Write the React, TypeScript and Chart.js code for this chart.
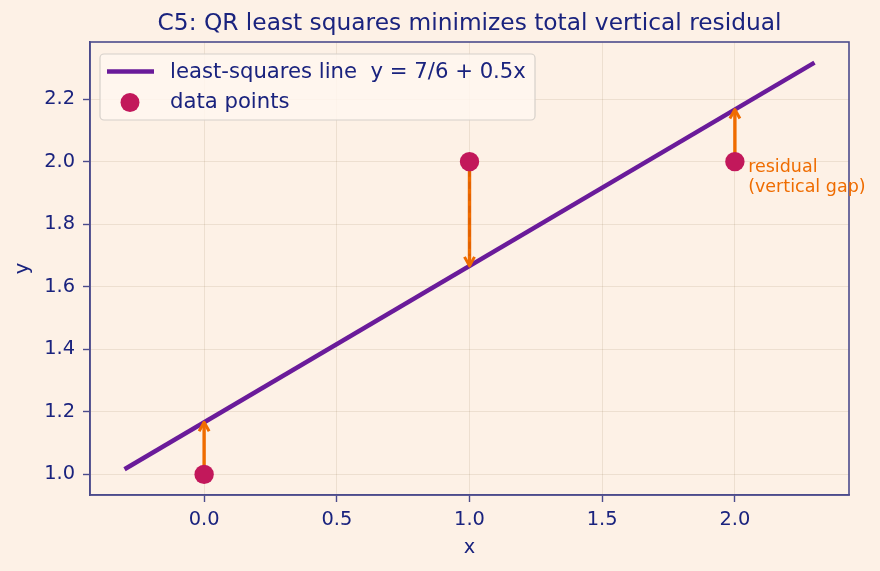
import React, { useEffect, useRef } from "react";
import { Chart, registerables } from "chart.js";

Chart.register(...registerables);

// ---- data ----
const pointX = [0, 1, 2];
const pointY = [1, 2, 2];
const lineX = [-0.3, 2.3];
const lineY = [1.0167, 2.3167];
const fittedY = [1.1667, 1.6667, 2.1667];
const xRange = [-0.43, 2.43];
const yRange = [0.9342, 2.3825];
const xStep = 0.5;
const yStep = 0.2;
const titleText = "C5: QR least squares minimizes total vertical residual";
const xLabel = "x";
const yLabel = "y";
const lineLabel = "least-squares line  y = 7/6 + 0.5x";
const pointLabel = "data points";
const noteLines = ["residual", "(vertical gap)"];
const notePos = [2.05, 1.95];

// ---- styles ----
const FONT = "'DejaVu Sans', 'Liberation Sans', sans-serif";
const BG = "#fdf1e6";
const NAVY = "#1a237e";
const SPINE = "#4b4b8c";
const PURPLE = "#6a1b9a";
const PINK = "#c2185b";
const ORANGE = "#ef6c00";
const GRID = "rgba(140,110,80,0.14)";
const TICK_SIZE = 19.4;
const LEGEND_SIZE = 21.2;
const TITLE_SIZE = 23.3;

function drawArrow(ctx: CanvasRenderingContext2D, x: number, yStart: number, yTip: number, dashed: boolean) {
  const dir = Math.sign(yTip - yStart);
  const headLen = 9;
  const headHalf = 5;
  ctx.save();
  ctx.strokeStyle = ORANGE;
  ctx.lineWidth = 3.4;
  ctx.lineCap = "butt";
  ctx.lineJoin = "round";
  ctx.beginPath();
  ctx.moveTo(x, yStart);
  ctx.lineTo(x, yTip);
  ctx.stroke();
  if (dashed) {
    ctx.strokeStyle = "#e06000";
    ctx.lineWidth = 2.2;
    ctx.setLineDash([7, 5]);
    ctx.beginPath();
    ctx.moveTo(x, yStart + dir * 8);
    ctx.lineTo(x, yTip - dir * 10);
    ctx.stroke();
    ctx.setLineDash([]);
  }
  ctx.strokeStyle = ORANGE;
  ctx.lineWidth = 3.0;
  ctx.beginPath();
  ctx.moveTo(x - headHalf, yTip - dir * headLen);
  ctx.lineTo(x, yTip);
  ctx.lineTo(x + headHalf, yTip - dir * headLen);
  ctx.stroke();
  ctx.restore();
}

const decorPlugin = {
  id: "decor",
  beforeDraw(chart: any) {
    const ctx = chart.ctx;
    ctx.save();
    ctx.fillStyle = BG;
    ctx.fillRect(0, 0, chart.width, chart.height);
    ctx.restore();
  },
  afterDatasetDraw(chart: any, args: any) {
    if (args.index !== 1) return;
    const ctx = chart.ctx;
    const xs = chart.scales.x;
    const ys = chart.scales.y;
    for (let i = 0; i < pointX.length; i++) {
      const px = xs.getPixelForValue(pointX[i]);
      const py = ys.getPixelForValue(pointY[i]);
      const fy = ys.getPixelForValue(fittedY[i]);
      drawArrow(ctx, px, py, fy, i === 1);
    }
  },
  afterDraw(chart: any) {
    const ctx = chart.ctx;
    const a = chart.chartArea;
    const xs = chart.scales.x;
    const ys = chart.scales.y;
    // full frame (spines)
    ctx.save();
    ctx.strokeStyle = SPINE;
    ctx.lineWidth = 1.6;
    ctx.strokeRect(a.left, a.top, a.right - a.left, a.bottom - a.top);
    ctx.restore();

    // title, centred over the plot area
    ctx.save();
    ctx.fillStyle = NAVY;
    ctx.font = `${TITLE_SIZE}px ${FONT}`;
    ctx.textAlign = "center";
    ctx.textBaseline = "middle";
    ctx.fillText(titleText, (a.left + a.right) / 2, 24);
    ctx.restore();

    // annotation text
    ctx.save();
    ctx.fillStyle = ORANGE;
    ctx.font = `17.5px ${FONT}`;
    ctx.textAlign = "left";
    ctx.textBaseline = "middle";
    const nx = xs.getPixelForValue(notePos[0]);
    const ny = ys.getPixelForValue(notePos[1]);
    const lh = 20.5;
    noteLines.forEach((t, i) => {
      ctx.fillText(t, nx, ny + (i - (noteLines.length - 1) / 2) * lh);
    });
    ctx.restore();

    // legend
    const lx = a.left + 10;
    const ly = a.top + 12;
    const lw = 435;
    const lhgt = 66;
    ctx.save();
    ctx.beginPath();
    const r = 4;
    ctx.moveTo(lx + r, ly);
    ctx.lineTo(lx + lw - r, ly);
    ctx.arcTo(lx + lw, ly, lx + lw, ly + r, r);
    ctx.lineTo(lx + lw, ly + lhgt - r);
    ctx.arcTo(lx + lw, ly + lhgt, lx + lw - r, ly + lhgt, r);
    ctx.lineTo(lx + r, ly + lhgt);
    ctx.arcTo(lx, ly + lhgt, lx, ly + lhgt - r, r);
    ctx.lineTo(lx, ly + r);
    ctx.arcTo(lx, ly, lx + r, ly, r);
    ctx.closePath();
    ctx.fillStyle = "rgba(255,247,239,0.85)";
    ctx.fill();
    ctx.strokeStyle = "#d6d0ca";
    ctx.lineWidth = 1.2;
    ctx.stroke();

    const ds = chart.data.datasets;
    // row 1: line
    const row1 = ly + 17.5;
    ctx.strokeStyle = ds[1].borderColor;
    ctx.lineWidth = 4.5;
    ctx.beginPath();
    ctx.moveTo(lx + 7, row1);
    ctx.lineTo(lx + 54, row1);
    ctx.stroke();
    // row 2: marker
    const row2 = ly + 48.5;
    ctx.fillStyle = ds[0].backgroundColor;
    ctx.beginPath();
    ctx.arc(lx + 30, row2, 9.5, 0, Math.PI * 2);
    ctx.fill();

    ctx.fillStyle = NAVY;
    ctx.font = `${LEGEND_SIZE}px ${FONT}`;
    ctx.textAlign = "left";
    ctx.textBaseline = "middle";
    ctx.fillText(ds[1].label, lx + 70, row1 + 0.5);
    ctx.fillText(ds[0].label, lx + 70, row2);
    ctx.restore();
  },
};

export default function App() {
  const ref = useRef<HTMLCanvasElement | null>(null);
  useEffect(() => {
    document.body.style.background = BG;
    const canvas = ref.current;
    if (!canvas) return;
    const chart = new Chart(canvas, {
      type: "scatter",
      data: {
        datasets: [
          {
            label: pointLabel,
            data: pointX.map((x, i) => ({ x, y: pointY[i] })),
            backgroundColor: PINK,
            borderColor: PINK,
            pointRadius: 9.7,
            pointHoverRadius: 9.7,
            borderWidth: 0,
          },
          {
            label: lineLabel,
            data: lineX.map((x, i) => ({ x, y: lineY[i] })),
            showLine: true,
            borderColor: PURPLE,
            backgroundColor: PURPLE,
            borderWidth: 4.5,
            pointRadius: 0,
            pointHoverRadius: 0,
            borderCapStyle: "butt",
          },
        ],
      },
      options: {
        animation: false,
        responsive: false,
        devicePixelRatio: 1,
        events: [],
        layout: { padding: { top: 42, left: 0, right: 31, bottom: 0 } },
        plugins: {
          legend: { display: false },
          tooltip: { enabled: false },
          title: { display: false },
        },
        scales: {
          x: {
            type: "linear",
            min: xRange[0],
            max: xRange[1],
            afterFit: (s: any) => {
              s.height = 76;
            },
            ticks: {
              stepSize: xStep,
              includeBounds: false,
              color: NAVY,
              padding: 6,
              font: { family: FONT, size: TICK_SIZE },
              callback: (v: any) => Number(v).toFixed(1),
            },
            grid: {
              color: GRID,
              lineWidth: 1,
              tickLength: 7,
              tickColor: SPINE,
              tickWidth: 1.4,
            },
            border: { color: SPINE, width: 1.6 },
            title: {
              display: true,
              text: xLabel,
              color: NAVY,
              font: { family: FONT, size: TICK_SIZE, lineHeight: 1.2 },
              padding: { top: 0, bottom: 11 },
            },
          },
          y: {
            type: "linear",
            min: yRange[0],
            max: yRange[1],
            afterFit: (s: any) => {
              s.width = 90;
            },
            ticks: {
              stepSize: yStep,
              includeBounds: false,
              color: NAVY,
              padding: 8,
              font: { family: FONT, size: TICK_SIZE },
              callback: (v: any) => Number(v).toFixed(1),
            },
            grid: {
              color: GRID,
              lineWidth: 1,
              tickLength: 7,
              tickColor: SPINE,
              tickWidth: 1.4,
            },
            border: { color: SPINE, width: 1.6 },
            title: {
              display: true,
              text: yLabel,
              color: NAVY,
              font: { family: FONT, size: TICK_SIZE, lineHeight: 1.2 },
              padding: { top: 11, bottom: 0 },
            },
          },
        },
      },
      plugins: [decorPlugin],
    } as any);
    return () => chart.destroy();
  }, []);

  return (
    <div style={{ position: "absolute", left: 0, top: 0, width: 880, height: 571, background: BG }}>
      <canvas ref={ref} width={880} height={571} style={{ display: "block", width: 880, height: 571 }} />
    </div>
  );
}
